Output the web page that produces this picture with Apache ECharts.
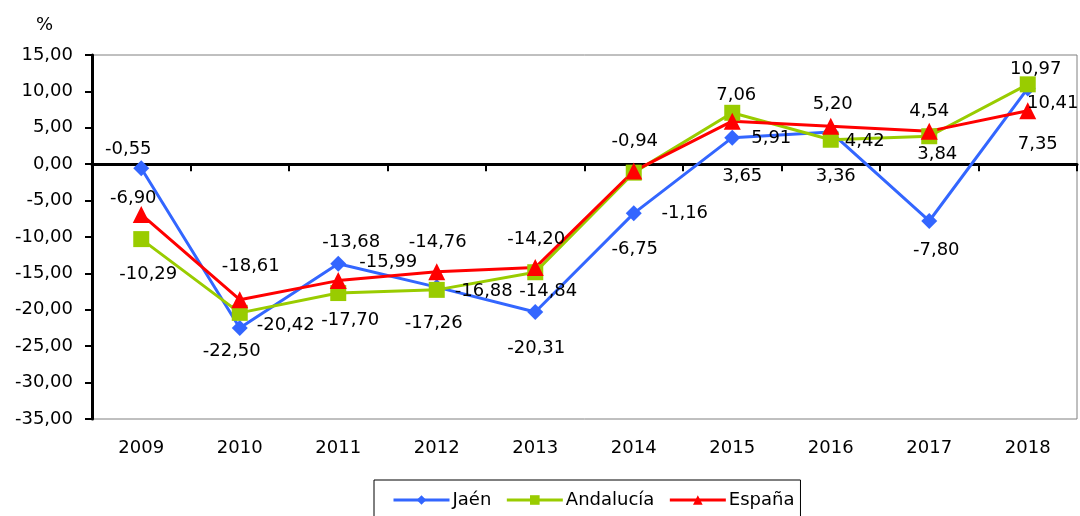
<!DOCTYPE html>
<html>
<head>
<meta charset="utf-8">
<script src="https://cdn.jsdelivr.net/npm/echarts@6/dist/echarts.min.js"></script>
<style>html,body{margin:0;padding:0;background:#fff;}#c{width:1080px;height:516px;}</style>
</head>
<body>
<div id="c"></div>
<script>
// ---- data ----
const categories = ['2009','2010','2011','2012','2013','2014','2015','2016','2017','2018'];
const jaen      = [-0.55, -22.50, -13.68, -16.88, -20.31, -6.75, 3.65, 4.42, -7.80, 10.41];
const andalucia = [-10.29, -20.42, -17.70, -17.26, -14.84, -1.16, 7.06, 3.36, 3.84, 10.97];
const espana    = [-6.90, -18.61, -15.99, -14.76, -14.20, -0.94, 5.91, 5.20, 4.54, 7.35];
const seriesNames = ['Jaén', 'Andalucía', 'España'];
const yTicks = { min: -35, max: 15, interval: 5 };

// ---- label placement (style only) ----
const jaenLabelOffsets      = [[-13,-19],[-8,23],[13,-21],[47,4],[1,36],[1,36],[10,39],[34,9],[7,29],[25,15]];
const andaluciaLabelOffsets = [[7,35],[46,12],[12,27],[-3,33],[13,19],[51,41],[4,-17],[5,37],[8,18],[8,-15]];
const espanaLabelOffsets    = [[-8,-16],[11,-33],[50,-18],[1,-29],[1,-28],[1,-30],[39,17],[2,-22],[0,-20],[10,34]];

const FONT = 'DejaVu Sans';
const fmt = v => v.toFixed(2).replace('.', ',');

function buildData(values, offsets) {
  return values.map((v, i) => ({
    value: v,
    label: { offset: offsets[i] }
  }));
}

function mkSeries(name, values, offsets, color, symbol, size) {
  return {
    name: name,
    type: 'line',
    xAxisIndex: 0,
    data: buildData(values, offsets),
    symbol: symbol,
    symbolSize: size,
    showAllSymbol: true,
    lineStyle: { color: color, width: 3 },
    itemStyle: { color: color },
    emphasis: { disabled: true },
    animation: false,
    label: {
      show: true,
      position: 'inside',
      align: 'center',
      verticalAlign: 'middle',
      color: '#000',
      fontFamily: FONT,
      fontSize: 18,
      formatter: p => fmt(p.value)
    }
  };
}

const chart = echarts.init(document.getElementById('c'));
chart.setOption({
  backgroundColor: '#fff',
  animation: false,
  title: {
    text: '%',
    left: 31,
    top: 11,
    textStyle: { fontFamily: FONT, fontSize: 18, fontWeight: 'normal', color: '#000' }
  },
  legend: {
    data: seriesNames,
    left: 374,
    top: 480,
    orient: 'horizontal',
    padding: [11, 6, 30, 18],
    borderColor: '#000',
    borderWidth: 1,
    itemWidth: 56,
    itemHeight: 12,
    itemGap: 14,
    lineStyle: { width: 3 },
    textStyle: { fontFamily: FONT, fontSize: 18, color: '#000', padding: [0, 0, 0, -2] }
  },
  grid: {
    left: 92, right: 3, top: 55, bottom: 97,
    show: true,
    borderColor: '#808080',
    borderWidth: 1,
    containLabel: false
  },
  xAxis: [
    {
      type: 'category',
      data: categories,
      position: 'bottom',
      boundaryGap: true,
      axisLine: { show: true, onZero: true, lineStyle: { color: '#000', width: 3 } },
      axisTick: { show: true, length: 7, inside: false, lineStyle: { color: '#000', width: 2 } },
      axisLabel: { show: false },
      splitLine: { show: false }
    },
    {
      type: 'category',
      data: categories,
      position: 'bottom',
      boundaryGap: true,
      axisLine: { show: false, onZero: false },
      axisTick: { show: false },
      axisLabel: { show: true, margin: 20, fontFamily: FONT, fontSize: 18, color: '#000' },
      splitLine: { show: false }
    }
  ],
  yAxis: {
    type: 'value',
    min: yTicks.min,
    max: yTicks.max,
    interval: yTicks.interval,
    axisLine: { show: true, onZero: false, lineStyle: { color: '#000', width: 3 } },
    axisTick: { show: true, length: 7, lineStyle: { color: '#000', width: 2 } },
    axisLabel: { margin: 19, fontFamily: FONT, fontSize: 18, color: '#000', formatter: v => fmt(v) },
    splitLine: { show: false }
  },
  series: [
    mkSeries(seriesNames[0], jaen, jaenLabelOffsets, '#3366FF', 'diamond', 16),
    mkSeries(seriesNames[1], andalucia, andaluciaLabelOffsets, '#99CC00', 'rect', 16),
    mkSeries(seriesNames[2], espana, espanaLabelOffsets, '#FF0000', 'triangle', 17)
  ]
});
</script>
</body>
</html>
